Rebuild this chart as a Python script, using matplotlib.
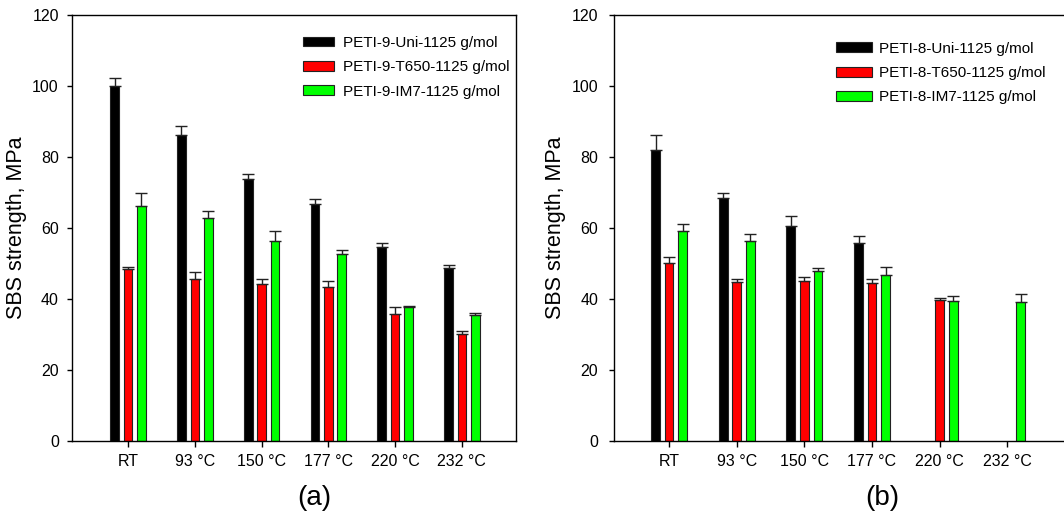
import numpy as np
import matplotlib
matplotlib.use("Agg")
import matplotlib.pyplot as plt

categories = ["RT", "93 °C", "150 °C", "177 °C", "220 °C", "232 °C"]

# Panel (a): PETI-9
labels_a = ["PETI-9-Uni-1125 g/mol", "PETI-9-T650-1125 g/mol", "PETI-9-IM7-1125 g/mol"]
uni9 = [100.0, 86.3, 73.7, 66.8, 54.7, 48.7]
uni9_err = [2.2, 2.5, 1.4, 1.3, 1.2, 0.8]
t650_9 = [48.5, 45.5, 44.1, 43.3, 35.8, 30.1]
t650_9_err = [0.6, 2.1, 1.4, 1.9, 1.9, 0.9]
im7_9 = [66.2, 62.8, 56.3, 52.8, 37.7, 35.4]
im7_9_err = [3.6, 1.9, 2.8, 0.9, 0.3, 0.6]

# Panel (b): PETI-8
labels_b = ["PETI-8-Uni-1125 g/mol", "PETI-8-T650-1125 g/mol", "PETI-8-IM7-1125 g/mol"]
uni8 = [82.1, 68.5, 60.6, 55.9, np.nan, np.nan]
uni8_err = [4.1, 1.4, 2.9, 1.9, 0.0, 0.0]
t650_8 = [50.1, 44.7, 45.0, 44.6, 39.7, np.nan]
t650_8_err = [1.8, 0.9, 1.1, 1.1, 0.6, 0.0]
im7_8 = [59.2, 56.2, 47.9, 46.7, 39.3, 39.1]
im7_8_err = [1.9, 2.2, 0.8, 2.4, 1.6, 2.4]

colors = ["#000000", "#ff0000", "#00ff00"]

plt.rcParams["font.family"] = ["Liberation Sans", "DejaVu Sans"]

W, H = 1064, 515
fig = plt.figure(figsize=(W / 100, H / 100), dpi=100)


def px_axes(l, t, r, b):
    return fig.add_axes([l / W, 1 - b / H, (r - l) / W, (b - t) / H])


def panel(ax, series, errs, labels, xlim, leg_anchor, tickpad_y, ylabel_x,
          hlen, htpad):
    x = np.arange(1, len(categories) + 1)
    offs = [-0.2, 0.0, 0.2]
    width = 0.13
    for vals, err, off, c, lab in zip(series, errs, offs, colors, labels):
        vals = np.array(vals, dtype=float)
        err = np.array(err, dtype=float)
        ax.bar(x + off, vals, width, color=c, edgecolor="#222222",
               linewidth=0.8, label=lab, zorder=2)
        ok = ~np.isnan(vals)
        ax.errorbar((x + off)[ok], vals[ok],
                    yerr=[np.zeros(ok.sum()), err[ok]],
                    fmt="none", ecolor="#222222", elinewidth=1.0,
                    capsize=4.5, capthick=1.0, zorder=3)
    ax.set_xlim(*xlim)
    ax.set_ylim(0, 120)
    ax.set_yticks([0, 20, 40, 60, 80, 100, 120])
    ax.set_xticks(x)
    ax.set_xticklabels(categories)
    ax.tick_params(axis="x", direction="out", length=4.5, width=1,
                   labelsize=11.5, pad=5)
    ax.tick_params(axis="y", direction="out", length=3.5, width=1,
                   labelsize=11.5, pad=tickpad_y)
    for s in ax.spines.values():
        s.set_linewidth(1.0)
    ax.set_ylabel("SBS strength, MPa", fontsize=15.5)
    ax.yaxis.set_label_coords(ylabel_x, 0.5)
    leg = ax.legend(loc="upper left", bbox_to_anchor=leg_anchor,
                    frameon=False, fontsize=11, handlelength=hlen,
                    handleheight=0.62, handletextpad=htpad,
                    labelspacing=0.68, borderpad=0, borderaxespad=0)
    return leg


axa = px_axes(72, 15, 516, 441)
panel(axa, [uni9, t650_9, im7_9], [uni9_err, t650_9_err, im7_9_err],
      labels_a, (0.16, 6.81), (0.52, 0.951), 6.0, -0.101, 2.05, 0.58)

axb = px_axes(614, 15, 1075, 441)
panel(axb, [uni8, t650_8, im7_8], [uni8_err, t650_8_err, im7_8_err],
      labels_b, (0.186, 7.0), (0.4816, 0.9375), 8.0, -0.104, 2.35, 0.45)

fig.text(314 / W, 1 - 498 / H, "(a)", fontsize=20, ha="center", va="center")
fig.text(882 / W, 1 - 498 / H, "(b)", fontsize=20, ha="center", va="center")

fig.savefig("out.png", dpi=100)
